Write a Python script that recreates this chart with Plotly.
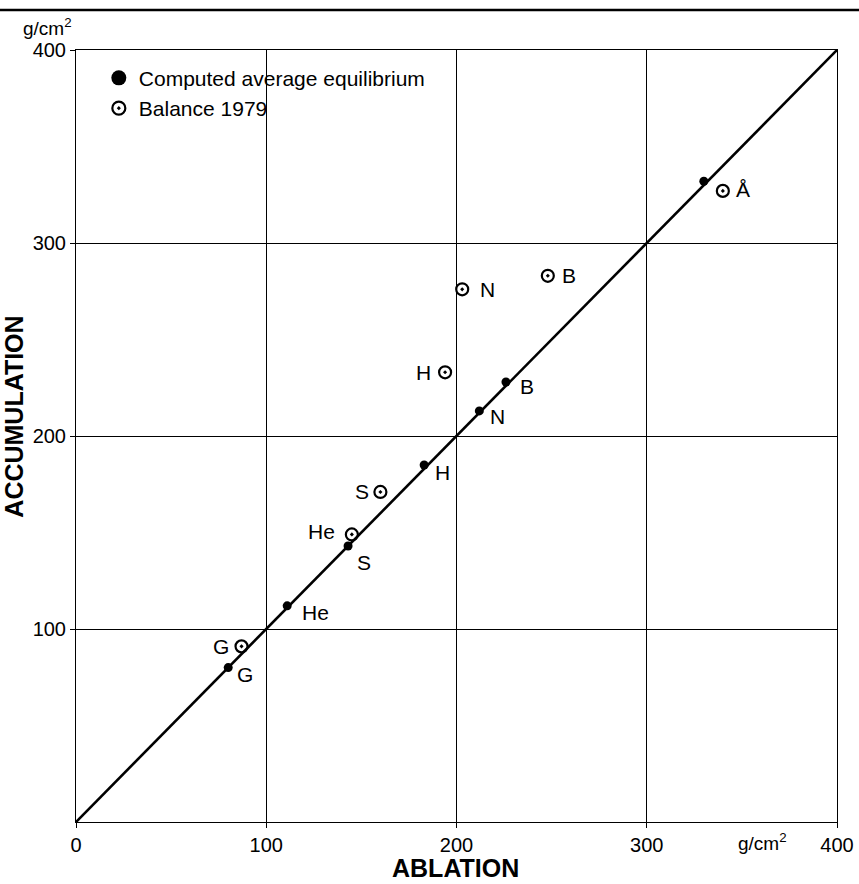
import plotly.graph_objects as go

# ---- data ----
stations = ["Å", "B", "N", "H", "S", "He", "G"]
computed_ablation = [330, 226, 212, 183, 143, 111, 80]
computed_accum = [332, 228, 213, 185, 143, 112, 80]
balance_ablation = [340, 248, 203, 194, 160, 145, 87]
balance_accum = [327, 283, 276, 233, 171, 149, 91]
line_x = [0, 400]
line_y = [0, 400]
x_ticks = [0, 100, 200, 300, 400]
y_ticks = [100, 200, 300, 400]

# label placement (pixel offsets from each point); None = no label
computed_offsets = [None, (21, -5), (18, -6), (18, -8), (16, -16), (28, -7), (17, -7)]
balance_offsets = [(20, 1), (21, 0), (25, 0), (-22, 0), (-18, 0), (-30, 3), (-21, 0)]

FONT = "Liberation Sans, Arial, sans-serif"

fig = go.Figure()
fig.add_trace(go.Scatter(x=line_x, y=line_y, mode="lines",
                         line=dict(color="black", width=2.6),
                         showlegend=False, hoverinfo="skip"))
fig.add_trace(go.Scatter(x=computed_ablation, y=computed_accum, mode="markers",
                         marker=dict(symbol="circle", size=9, color="black"),
                         showlegend=False, name="Computed average equilibrium"))
fig.add_trace(go.Scatter(x=balance_ablation, y=balance_accum, mode="markers",
                         marker=dict(symbol="circle-open-dot", size=12, color="black",
                                     line=dict(width=2.2)),
                         showlegend=False, name="Balance 1979"))
# legend entries
fig.add_trace(go.Scatter(x=[None], y=[None], mode="markers",
                         marker=dict(symbol="circle", size=15, color="black"),
                         name="Computed average equilibrium"))
fig.add_trace(go.Scatter(x=[None], y=[None], mode="markers",
                         marker=dict(symbol="circle-open-dot", size=13, color="black",
                                     line=dict(width=2.2)),
                         name="Balance 1979"))

annotations = []
for name, xv, yv, off in zip(stations, computed_ablation, computed_accum, computed_offsets):
    if off is None:
        continue
    annotations.append(dict(x=xv, y=yv, text=name, showarrow=False,
                            xanchor="center", yanchor="middle",
                            xshift=off[0], yshift=off[1],
                            font=dict(size=21, color="black", family=FONT)))
for name, xv, yv, off in zip(stations, balance_ablation, balance_accum, balance_offsets):
    annotations.append(dict(x=xv, y=yv, text=name, showarrow=False,
                            xanchor="center", yanchor="middle",
                            xshift=off[0], yshift=off[1],
                            font=dict(size=21, color="black", family=FONT)))

# axis titles and units
annotations.append(dict(xref="paper", yref="paper", x=0.4993, y=-0.0596,
                        xanchor="center", yanchor="middle",
                        text="<b>ABLATION</b>", showarrow=False,
                        font=dict(size=25, color="black", family=FONT)))
annotations.append(dict(xref="paper", yref="paper", x=-0.0815, y=0.525, textangle=-90,
                        xanchor="center", yanchor="middle",
                        text="<b>ACCUMULATION</b>", showarrow=False,
                        font=dict(size=25, color="black", family=FONT)))
annotations.append(dict(xref="paper", yref="paper", x=-0.0368, y=1.0298,
                        xanchor="center", yanchor="middle",
                        text="g/cm<sup>2</sup>", showarrow=False,
                        font=dict(size=19, color="black", family=FONT)))
annotations.append(dict(xref="paper", yref="paper", x=0.9015, y=-0.0259,
                        xanchor="center", yanchor="middle",
                        text="g/cm<sup>2</sup>", showarrow=False,
                        font=dict(size=19, color="black", family=FONT)))

fig.update_layout(
    width=859, height=884,
    margin=dict(l=76, r=22, t=50, b=62),
    paper_bgcolor="white", plot_bgcolor="white",
    font=dict(family=FONT, color="black"),
    annotations=annotations,
    legend=dict(x=0.03, y=0.99, xanchor="left", yanchor="top",
                bgcolor="rgba(0,0,0,0)", font=dict(size=21, color="black", family=FONT),
                tracegroupgap=0, itemsizing="trace"),
    shapes=[dict(type="line", xref="paper", yref="paper", x0=-0.1, x1=1.03,
                 y0=1.0518, y1=1.0518, line=dict(color="black", width=2.5))],
)
fig.update_xaxes(range=[0, 400], tickvals=x_ticks, showgrid=True, gridcolor="black",
                 gridwidth=1, zeroline=False, showline=True, linecolor="black",
                 linewidth=1, mirror=True, ticks="outside", ticklen=5, tickcolor="black",
                 automargin=False,
                 tickfont=dict(size=20, color="black", family=FONT))
fig.update_yaxes(range=[0, 400], tickvals=y_ticks, showgrid=True, gridcolor="black",
                 gridwidth=1, zeroline=False, showline=True, linecolor="black",
                 linewidth=1, mirror=True, ticks="outside", ticklen=5, tickcolor="black",
                 automargin=False,
                 tickfont=dict(size=20, color="black", family=FONT))

fig.write_html("out.html", config={"displayModeBar": False},
               post_script="document.body.style.margin='0px';document.body.style.overflow='hidden';")
